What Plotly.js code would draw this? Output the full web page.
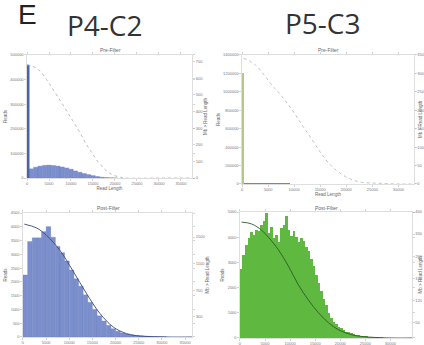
<!DOCTYPE html>
<html><head><meta charset="utf-8">
<script src="https://cdn.plot.ly/plotly-3.0.1.min.js"></script>
<style>html,body{margin:0;padding:0;background:#fff}#chart{width:424px;height:345px}</style>
</head><body><div id="chart"></div>
<script>
// ---- P4-C2 pre-filter ----
const tlSpikeX = [250];
const tlSpikeY = [459500];
const tlBinX = [1000,2000,3000,4000,5000,6000,7000,8000,9000,10000,11000,12000,13000,14000,15000,16000,17000,18000,19000,20000];
const tlBinY = [37500,44000,48500,51500,52500,51000,48500,45000,41000,36000,29000,23500,18500,14000,10000,6500,3500,2000,1000,500];
const tlLineX = [0,1200,2660,4500,6470,8400,10270,12000,13320,14800,16360,18000,19400,21000,22450,30000,37000];
const tlLineY = [680,672,650,590,510,430,350,275,210,150,90,45,20,6,0,0,0];

// ---- P5-C3 pre-filter ----
const trSpikeX = [150];
const trSpikeY = [1200000];
const trBinX = [800,1800,2800,3800,4800,5800,6800,7800,8800,9800,10800,11800,12800,13800,14800];
const trBinY = [6000,8000,9000,9500,9000,8500,8000,7000,6000,5000,4000,3000,2000,1500,800];
const trLineX = [320,2560,6090,7050,9610,11530,13460,15380,17300,19860,22430,26270,30110,33000];
const trLineY = [341,323,262,248,201,160,120,79,47,20,6,2,0,0];

// ---- P4-C2 post-filter ----
const blBinX = [500,1500,2500,3500,4500,5500,6500,7500,8500,9500,10500,11500,12500,13500,14500,15500,16500,17500,18500,19500,20500,21500,22500,23500,24500,25500,26500,27500,28500,29500,30500];
const blBinY = [2250,3465,3600,3600,3825,4005,3620,3290,3060,2760,2430,2115,1845,1530,1260,1000,770,580,420,300,210,150,108,75,56,42,32,22,18,13,9];
const blLineX = [300,2900,5060,7950,10840,13730,16620,19520,22400,25300,31100,36500];
const blLineY = [1693,1637,1525,1302,986,651,353,149,50,15,0,0];

// ---- P5-C3 post-filter ----
const brBinX = [250,750,1250,1750,2250,2750,3250,3750,4250,4750,5250,5750,6250,6750,7250,7750,8250,8750,9250,9750,10250,10750,11250,11750,12250,12750,13250,13750,14250,14750,15250,15750,16250,16750,17250,17750,18250,18750,19250,19750,20250,20750,21250,21750,22250,22750,23250,23750,24250,24750,25250,25750,26250,26750,27250,27750,28250,28750,29250,29750];
const brBinY = [2750,3300,3700,3950,4200,4100,4300,4250,4500,4650,4950,4150,4400,3950,4100,3800,4350,4500,4850,4300,4050,4250,4000,3800,3950,3850,3600,3450,3150,2850,2500,2200,1850,1550,1300,1000,800,650,550,450,400,325,250,225,185,160,135,110,90,80,65,55,45,38,30,25,20,15,12,10];
const brLineX = [333,2333,4333,5667,7667,9667,11667,13667,15667,17667,19667,22333,25667,30333,34300];
const brLineY = [368,362,342,320,280,228,168,120,80,48,26,10,3,0,0];

const blue='#7c8fcd', blueEdge='#6478bb', blueSpike='#4d63a9';
const green='#5fb840';
const tf={family:'Liberation Sans, Arial, sans-serif',size:4,color:'#777'};
const ttf={family:'Liberation Sans, Arial, sans-serif',size:4.5,color:'#666'};

function xa(domain, anchor, range, dtick, title){
  return {domain:domain, anchor:anchor, range:range, dtick:dtick, tick0:0, tickformat:'d',
    showline:true, linecolor:'#c8c8c8', linewidth:0.6, mirror:'ticks',
    ticks:'outside', ticklen:2, tickwidth:0.5, tickcolor:'#aaa',
    tickfont:tf, showgrid:false, zeroline:false,
    title:{text:title, font:ttf, standoff:1}};
}
function ya(domain, anchor, range, dtick, title){
  return {domain:domain, anchor:anchor, range:range, dtick:dtick, tick0:0, tickformat:'d',
    showline:true, linecolor:'#c8c8c8', linewidth:0.6, mirror:'ticks',
    ticks:'outside', ticklen:2, tickwidth:0.5, tickcolor:'#aaa',
    tickfont:tf, showgrid:false, zeroline:false,
    title:{text:title, font:ttf, standoff:2}};
}
function ya2(over, anchor, range, title, extra){
  return Object.assign({overlaying:over, anchor:anchor, side:'right', range:range, tickformat:'d',
    showline:false, ticks:'outside', ticklen:2, tickwidth:0.5, tickcolor:'#aaa',
    tickfont:tf, showgrid:false, zeroline:false,
    title:{text:title, font:ttf, standoff:1}}, extra||{});
}

const traces = [
  {type:'bar', x:tlBinX, y:tlBinY, width:1000, xaxis:'x', yaxis:'y', marker:{color:blue, line:{color:blueEdge,width:0.3}}},
  {type:'bar', x:tlSpikeX, y:tlSpikeY, width:500, xaxis:'x', yaxis:'y', marker:{color:blueSpike, line:{color:blueSpike,width:0.5}}},
  {type:'scatter', mode:'lines', x:tlLineX, y:tlLineY, xaxis:'x', yaxis:'y2', line:{color:'#a8b0a8', width:0.8, shape:'spline', dash:'dot'}},

  {type:'bar', x:trBinX, y:trBinY, width:1000, xaxis:'x2', yaxis:'y3', marker:{color:'#7a9a3a', line:{width:0}}},
  {type:'bar', x:trSpikeX, y:trSpikeY, width:300, xaxis:'x2', yaxis:'y3', marker:{color:'#b4c88a', line:{width:0}}},
  {type:'scatter', mode:'lines', x:trLineX, y:trLineY, xaxis:'x2', yaxis:'y4', line:{color:'#b4b4b4', width:0.8, shape:'spline', dash:'dot'}},

  {type:'bar', x:blBinX, y:blBinY, width:1000, xaxis:'x3', yaxis:'y5', marker:{color:blue, line:{color:blueEdge,width:0.3}}},
  {type:'scatter', mode:'lines', x:blLineX, y:blLineY, xaxis:'x3', yaxis:'y6', line:{color:'#3c4a78', width:0.9, shape:'spline'}},

  {type:'bar', x:brBinX, y:brBinY, width:500, xaxis:'x4', yaxis:'y7', marker:{color:green, line:{width:0}}},
  {type:'scatter', mode:'lines', x:brLineX, y:brLineY, xaxis:'x4', yaxis:'y8', line:{color:'#2f5a25', width:0.9, shape:'spline'}}
];

const rtFont={family:'Liberation Sans, Arial, sans-serif', size:4.5, color:'#666'};
const layout = {
  width:424, height:345, margin:{l:0,r:0,t:0,b:0}, paper_bgcolor:'#fff', plot_bgcolor:'#fff',
  showlegend:false, bargap:0, barmode:'overlay',
  xaxis: xa([0.0637,0.4528],'y',[0,37500],5000,'Read Length'),
  yaxis: ya([0.484,0.8406],'x',[0,500000],100000,'Reads'),
  yaxis2: ya2('y','x',[0,740],'Mb > Read Length',{dtick:100}),
  xaxis2: xa([0.5708,0.9764],'y3',[0,33000],5000,'Read Length'),
  yaxis3: ya([0.4667,0.8406],'x2',[0,1400000],200000,'Reads'),
  yaxis4: ya2('y3','x2',[0,350],'',{dtick:50, ticklen:1.5}),
  xaxis3: xa([0.0542,0.4528],'y5',[0,36500],5000,''),
  yaxis5: ya([0.0232,0.3826],'x3',[0,4500],500,'Reads'),
  yaxis6: ya2('y5','x3',[0,1860],'Mb > Read Length',{tickvals:[300,700,1100,1500]}),
  xaxis4: xa([0.566,0.9717],'y7',[0,34300],5000,''),
  yaxis7: ya([0.0203,0.3855],'x4',[0,5000],1000,'Reads'),
  yaxis8: ya2('y7','x4',[0,400],'',{tick0:50,dtick:70, ticklen:1.5}),
  annotations:[
    {text:'E', xref:'paper', yref:'paper', x:16/424, y:1-14/345, xanchor:'left', yanchor:'middle', showarrow:false, font:{family:'Liberation Sans, Arial, sans-serif', size:28, color:'#222'}},
    {text:'P4-C2', xref:'paper', yref:'paper', x:105/424, y:1-25/345, xanchor:'center', yanchor:'middle', showarrow:false, font:{family:'Open Sans, sans-serif', size:28, color:'#333'}},
    {text:'P5-C3', xref:'paper', yref:'paper', x:323/424, y:1-23/345, xanchor:'center', yanchor:'middle', showarrow:false, font:{family:'Open Sans, sans-serif', size:28, color:'#333'}},
    {text:'Pre-Filter', xref:'paper', yref:'paper', x:110/424, y:1-50/345, xanchor:'center', yanchor:'middle', showarrow:false, font:{family:'Liberation Sans, Arial, sans-serif', size:5, color:'#666'}},
    {text:'Pre-Filter', xref:'paper', yref:'paper', x:328/424, y:1-50/345, xanchor:'center', yanchor:'middle', showarrow:false, font:{family:'Liberation Sans, Arial, sans-serif', size:5, color:'#666'}},
    {text:'Post-Filter', xref:'paper', yref:'paper', x:108/424, y:1-208/345, xanchor:'center', yanchor:'middle', showarrow:false, font:{family:'Liberation Sans, Arial, sans-serif', size:5, color:'#666'}},
    {text:'Post-Filter', xref:'paper', yref:'paper', x:326/424, y:1-208/345, xanchor:'center', yanchor:'middle', showarrow:false, font:{family:'Liberation Sans, Arial, sans-serif', size:5, color:'#666'}},
    {text:'Mb > Read Length', textangle:-90, xref:'paper', yref:'paper', x:1, y:(0.4667+0.8406)/2, xanchor:'right', yanchor:'middle', showarrow:false, font:rtFont, borderpad:0},
    {text:'Mb > Read Length', textangle:-90, xref:'paper', yref:'paper', x:1, y:(0.0203+0.3855)/2, xanchor:'right', yanchor:'middle', showarrow:false, font:rtFont, borderpad:0}
  ]
};
Plotly.newPlot('chart', traces, layout, {displayModeBar:false, staticPlot:true});
</script></body></html>
